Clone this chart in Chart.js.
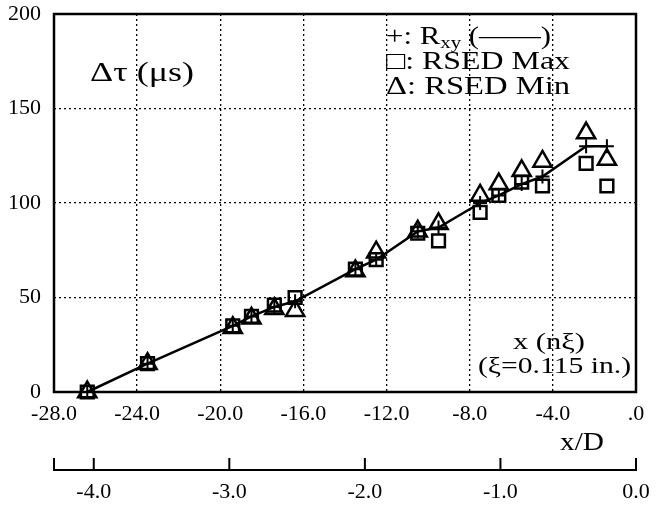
<!DOCTYPE html>
<html>
<head>
<meta charset="utf-8">
<script src="https://cdn.jsdelivr.net/npm/chart.js@4.4.0/dist/chart.umd.min.js"></script>
<style>
body { margin: 0; background: #fff; }
canvas { display: block; }
</style>
</head>
<body>
<canvas id="myChart" width="663" height="508"></canvas>
<script>
// probe positions, in units of xi
const x_pos = [-26.4, -23.5, -19.4, -18.5, -17.4, -16.4, -13.5, -12.5, -10.5, -9.5, -7.5, -6.6, -5.5, -4.5, -2.4, -1.4];
// delta tau (us)
const rxy      = [0, 15, 35, 40, 45, 48, 65, 70, 85, 87, 100, 104, 110, 114, 130, 130];
const rsed_max = [0, 15, 35, 40, 46, 50, 65, 70, 84, 80,  95, 104, 111, 109, 121, 109];
const rsed_min = [0, 15, 34, 39, 44, 43, 64, 74, 85, 89, 104, 110, 117, 122, 137, 123];

const x_ticks = [-28, -24, -20, -16, -12, -8, -4, 0];
const y_ticks = [0, 50, 100, 150, 200];
const xd_ticks = [-4, -3, -2, -1, 0];
const XI = 0.115;   // in.
const D = 0.75;     // in.

const SERIF = "'Liberation Serif', 'Times New Roman', serif";
Chart.defaults.font.family = SERIF;
Chart.defaults.font.size = 22;
Chart.defaults.color = '#000';

function pairs(ys) {
    return x_pos.map((x, i) => ({x: x, y: ys[i]}));
}

// draw text squeezed/stretched to a given width (the scan is stretched sideways)
function stretchText(ctx, parts, left, y, width) {
    let w = 0;
    parts.forEach(p => {
        ctx.font = p[1] + 'px ' + SERIF;
        w += ctx.measureText(p[0]).width;
    });
    const sx = width / w;
    ctx.save();
    ctx.translate(left, y);
    ctx.scale(sx, 1);
    ctx.textBaseline = 'middle';
    ctx.textAlign = 'left';
    ctx.fillStyle = '#000';
    let cx = 0;
    parts.forEach(p => {
        ctx.font = p[1] + 'px ' + SERIF;
        ctx.fillText(p[0], cx, p[2] || 0);
        cx += ctx.measureText(p[0]).width;
    });
    ctx.restore();
}

// no automatic label padding, the plot box is placed by hand
function noPad(s) {
    s.paddingLeft = 0; s.paddingRight = 0;
    s.paddingTop = 0; s.paddingBottom = 0;
}

const decor = {
    id: 'decor',
    beforeDraw(chart) {
        const ctx = chart.ctx;
        ctx.save();
        ctx.fillStyle = '#fff';
        ctx.fillRect(0, 0, chart.width, chart.height);
        ctx.restore();
    },
    afterDraw(chart) {
        const ctx = chart.ctx;
        const a = chart.chartArea;
        ctx.save();
        ctx.strokeStyle = '#000';
        ctx.lineWidth = 2.5;
        ctx.strokeRect(a.left, a.top, a.right - a.left, a.bottom - a.top);

        // x/D bracket axis
        const s = chart.scales.xd;
        const ly = s.top + 33;
        ctx.lineWidth = 2;
        ctx.beginPath();
        ctx.moveTo(s.getPixelForValue(s.min), ly);
        ctx.lineTo(s.getPixelForValue(s.max), ly);
        [s.min].concat(xd_ticks).forEach(v => {
            const px = s.getPixelForValue(v);
            ctx.moveTo(px, ly + 1);
            ctx.lineTo(px, ly - 12);
        });
        ctx.stroke();
        ctx.restore();

        stretchText(ctx, [['\u0394\u03c4 (\u03bcs)', 27]], 90, 74, 104);
        stretchText(ctx, [['+: R', 25], ['xy', 17, 7], [' (\u2014\u2014)', 25]], 386, 37, 165);
        stretchText(ctx, [['\u25a1: RSED Max', 25]], 386, 62, 184);
        stretchText(ctx, [['\u0394: RSED Min', 25]], 386, 87, 184);
        stretchText(ctx, [['x (n\u03be)', 24]], 513, 343, 72);
        stretchText(ctx, [['(\u03be=0.115 in.)', 24]], 478, 367, 153);
        stretchText(ctx, [['x/D', 25]], 560, 443, 44);
    }
};

const ctx = document.getElementById('myChart');
const chart = new Chart(ctx, {
    type: 'scatter',
    data: {
        datasets: [{
            label: 'RSED Max',
            data: pairs(rsed_max),
            pointStyle: 'rect',
            pointRadius: 9,
            pointBorderWidth: 2.5,
            borderColor: '#000',
            backgroundColor: 'rgba(0,0,0,0)',
            clip: false,
        }, {
            label: 'RSED Min',
            data: pairs(rsed_min),
            pointStyle: 'triangle',
            pointRadius: 10.5,
            pointBorderWidth: 2.5,
            borderColor: '#000',
            backgroundColor: 'rgba(0,0,0,0)',
            clip: false,
        }, {
            label: 'Rxy',
            data: pairs(rxy),
            showLine: true,
            tension: 0,
            borderWidth: 2.5,
            borderColor: '#000',
            backgroundColor: 'rgba(0,0,0,0)',
            pointStyle: 'cross',
            pointRadius: 7,
            pointBorderWidth: 2,
            clip: false,
        }]
    },
    options: {
        responsive: false,
        animation: false,
        devicePixelRatio: 1,
        layout: { autoPadding: false, padding: { left: 0, right: 27, top: 14, bottom: 0 } },
        plugins: {
            legend: { display: false },
            tooltip: { enabled: false }
        },
        scales: {
            x: {
                type: 'linear',
                position: 'bottom',
                weight: 0,
                min: -28,
                max: 0,
                afterBuildTicks: (s) => { s.ticks = x_ticks.map(v => ({value: v})); },
                afterFit: (s) => { s.height = 45; noPad(s); },
                grid: { color: '#000', lineWidth: 1.3, drawTicks: false },
                border: { display: false, dash: [2, 3] },
                ticks: {
                    padding: 9,
                    maxRotation: 0,
                    callback: (v) => v === 0 ? '.0' : v.toFixed(1)
                }
            },
            xd: {
                type: 'linear',
                position: 'bottom',
                weight: 1,
                min: -28 * XI / D,
                max: 0,
                afterBuildTicks: (s) => { s.ticks = xd_ticks.map(v => ({value: v})); },
                afterFit: (s) => { s.height = 71; noPad(s); },
                grid: { display: false, drawOnChartArea: false, drawTicks: false },
                border: { display: false },
                ticks: {
                    padding: 42,
                    maxRotation: 0,
                    callback: (v) => v.toFixed(1)
                }
            },
            y: {
                type: 'linear',
                min: 0,
                max: 200,
                afterBuildTicks: (s) => { s.ticks = y_ticks.map(v => ({value: v})); },
                afterFit: (s) => { s.width = 54; noPad(s); },
                grid: { color: '#000', lineWidth: 1.3, drawTicks: false },
                border: { display: false, dash: [2, 3] },
                ticks: {
                    padding: 13,
                    callback: (v) => String(v)
                }
            }
        }
    },
    plugins: [decor]
});
</script>
</body>
</html>
